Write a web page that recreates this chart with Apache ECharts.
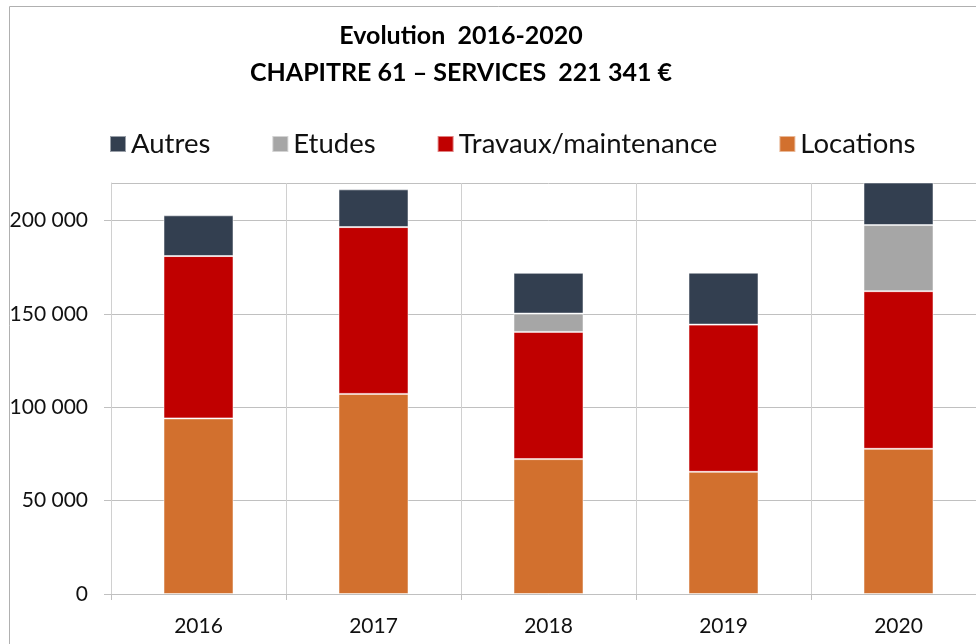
<!DOCTYPE html>
<html>
<head>
<meta charset="utf-8">
<script src="https://cdn.jsdelivr.net/npm/echarts@6/dist/echarts.min.js"></script>
<style>
  html, body { margin: 0; padding: 0; background: #fff; overflow: hidden; }
  #chart { width: 986px; height: 644px; }
</style>
</head>
<body>
<div id="chart"></div>
<script>
const years = ['2016', '2017', '2018', '2019', '2020']
const locations = [94000, 107100, 72200, 65400, 77700]
const travaux = [86900, 89300, 68100, 78800, 84400]
const etudes = [0, 0, 9800, 0, 35400]
const autres = [21800, 20200, 21800, 27800, 23841]

const fontFam = 'Lato, "Open Sans", sans-serif'

function fmt(v) {
  return String(v).replace(/\B(?=(\d{3})+(?!\d))/g, ' ')
}

function barSerie(name, data, color) {
  return {
    name: name,
    type: 'bar',
    stack: 'total',
    barWidth: 70,
    data: data,
    itemStyle: { color: color, borderColor: 'rgba(255,255,255,0.5)', borderWidth: 1 }
  }
}

const option = {
  animation: false,
  textStyle: { fontFamily: fontFam },
  title: {
    text: 'Evolution  2016-2020\nCHAPITRE 61 – SERVICES  221 341 €',
    left: 456,
    textAlign: 'center',
    top: 12,
    textStyle: { fontSize: 25, fontWeight: 'bold', color: '#000', lineHeight: 37, fontFamily: fontFam }
  },
  legend: {
    data: ['Autres', 'Etudes', 'Travaux/maintenance', 'Locations'],
    top: 125,
    left: 104,
    itemWidth: 16,
    itemHeight: 16,
    itemGap: 61,
    icon: 'rect',
    textStyle: { fontSize: 27.5, color: '#111', fontFamily: fontFam }
  },
  graphic: [{
    type: 'rect',
    shape: { x: 9.5, y: 6.5, width: 1100, height: 1100 },
    style: { fill: 'none', stroke: '#b0b0b0', lineWidth: 1 },
    silent: true
  }],
  grid: { left: 111, right: 0, top: 183, bottom: 50 },
  xAxis: {
    type: 'category',
    data: years,
    axisLine: { lineStyle: { color: '#c0c0c0' } },
    axisTick: { show: true, length: 6, lineStyle: { color: '#c0c0c0' } },
    splitLine: { show: true, lineStyle: { color: '#d0d0d0' } },
    axisLabel: { fontSize: 21, color: '#111', margin: 22, fontFamily: fontFam }
  },
  yAxis: {
    type: 'value',
    min: 0,
    max: 220000,
    interval: 50000,
    axisLine: { show: true, lineStyle: { color: '#d0d0d0' } },
    axisTick: { show: true, length: 7, lineStyle: { color: '#c0c0c0' } },
    splitLine: { show: true, lineStyle: { color: '#c0c0c0' } },
    axisLabel: { fontSize: 21, color: '#111', margin: 23, fontFamily: fontFam, formatter: fmt, showMaxLabel: false }
  },
  series: [
    barSerie('Locations', locations, '#d2702e'),
    barSerie('Travaux/maintenance', travaux, '#c00000'),
    barSerie('Etudes', etudes, '#a6a6a6'),
    barSerie('Autres', autres, '#333f50')
  ]
}

const myChart = echarts.init(document.getElementById('chart'))
myChart.setOption(option, true)
window.addEventListener('resize', () => {
  myChart.resize()
})
</script>
</body>
</html>
